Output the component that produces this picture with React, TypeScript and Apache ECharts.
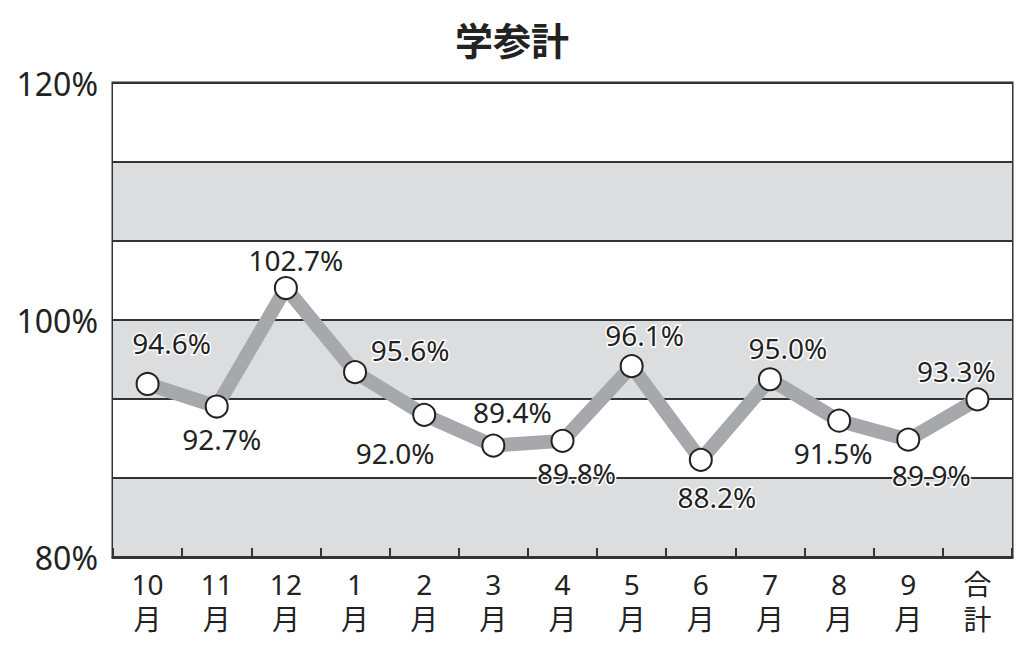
import React, { useEffect, useRef } from "react";
import * as echarts from "echarts";

const title = "学参計";
const categories = ["10\n月", "11\n月", "12\n月", "1\n月", "2\n月", "3\n月", "4\n月", "5\n月", "6\n月", "7\n月", "8\n月", "9\n月", "合\n計"];
const values = [94.6, 92.7, 102.7, 95.6, 92.0, 89.4, 89.8, 96.1, 88.2, 95.0, 91.5, 89.9, 93.3];
const yTickLabels = [80, 100, 120];

// label styling: placement and nudge for each point
const labelPositions = ["top", "bottom", "top", "top", "bottom", "top", "bottom", "top", "bottom", "top", "bottom", "bottom", "top"];
const labelNudges = [
  [24, -10], [5, 1], [10, 3], [55, 9], [-29, 7], [19, -3], [14, 1],
  [13, 0], [16, 6], [18, 0], [-6, 1], [23, 4], [-21, 3],
];

export default function App() {
  const ref = useRef<HTMLDivElement>(null);
  useEffect(() => {
    document.body.style.margin = "0";
    const chart = echarts.init(ref.current!, undefined, { renderer: "svg" });
    const font = "'Noto Sans', 'Noto Sans CJK JP', sans-serif";
    chart.setOption({
      animation: false,
      backgroundColor: "#ffffff",
      title: {
        text: title,
        left: "center",
        top: 14,
        textStyle: { fontSize: 38, fontWeight: "bold", color: "#222", fontFamily: "'Noto Sans CJK JP', sans-serif" },
      },
      grid: {
        left: 113, right: 12, top: 83, bottom: 96,
        show: true, borderColor: "#333", borderWidth: 3, backgroundColor: "transparent",
      },
      xAxis: {
        type: "category",
        data: categories,
        boundaryGap: true,
        axisLine: { show: true, lineStyle: { color: "#333", width: 3 } },
        axisTick: { show: true, inside: true, length: 9, lineStyle: { color: "#333", width: 2 } },
        axisLabel: {
          margin: 9, fontSize: 28, lineHeight: 35, color: "#222", fontFamily: font,
        },
      },
      yAxis: {
        type: "value",
        min: 80,
        max: 120,
        interval: 20 / 3,
        axisLine: { show: false },
        axisTick: { show: false },
        axisLabel: {
          margin: 15, fontSize: 32, color: "#222", fontFamily: font,
          formatter: (v: number) => {
            const hit = yTickLabels.find((t) => Math.abs(t - v) < 0.01);
            return hit !== undefined ? `${hit}%` : "";
          },
        },
        splitLine: { show: true, lineStyle: { color: "#333", width: 2 } },
        splitArea: { show: true, areaStyle: { color: ["#dcdddf", "#ffffff"] } },
      },
      series: [
        {
          type: "line",
          data: values.map((v, i) => ({
            value: v,
            label: {
              position: labelPositions[i],
              offset: labelNudges[i],
            },
          })),
          lineStyle: { color: "#a7a8ab", width: 14 },
          symbol: "circle",
          symbolSize: 22,
          itemStyle: { color: "#ffffff", borderColor: "#222", borderWidth: 2 },
          label: {
            show: true,
            distance: 5,
            fontSize: 28,
            color: "#222",
            fontFamily: font,
            textBorderColor: "#ffffff",
            textBorderWidth: 3,
            formatter: (p: any) => `${Number(p.value).toFixed(1)}%`,
          },
          z: 3,
        },
      ],
    });
    return () => chart.dispose();
  }, []);
  return <div ref={ref} style={{ width: 1024, height: 653 }} />;
}
